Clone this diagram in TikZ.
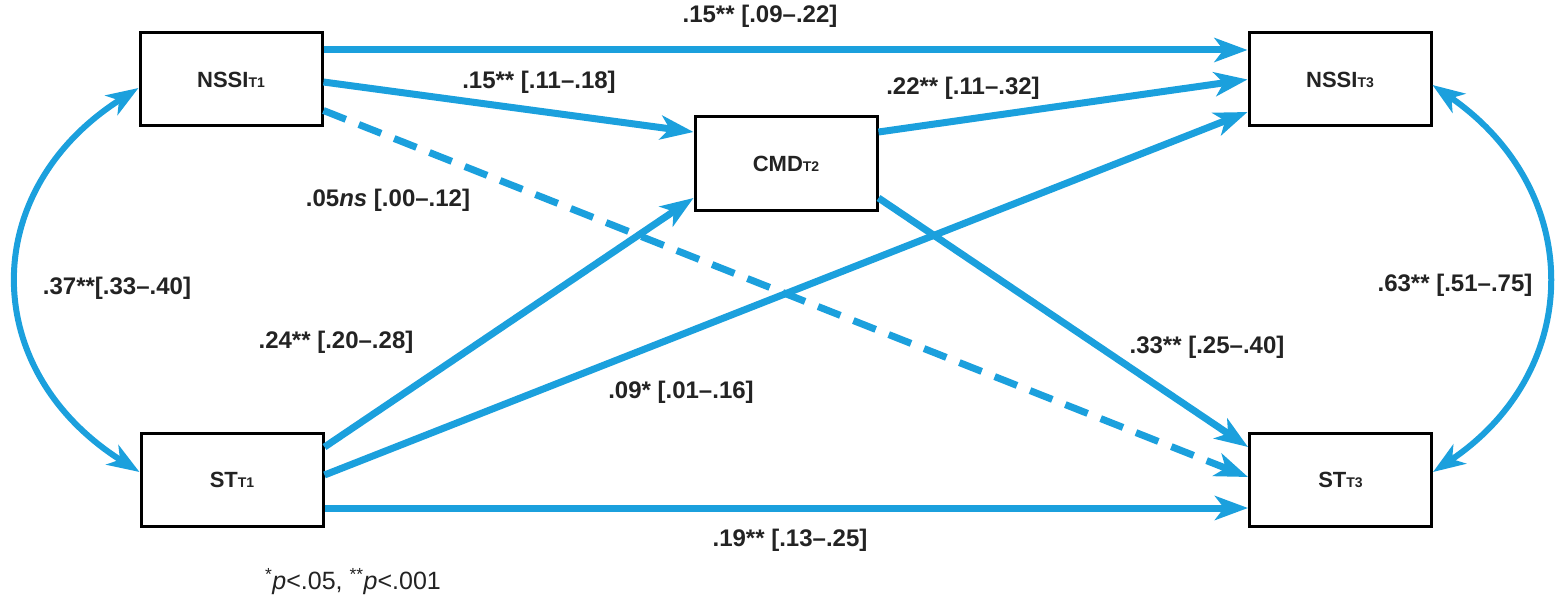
\documentclass[tikz,border=0pt]{standalone}
\usepackage{fontspec}
\setmainfont{Liberation Sans}
\usetikzlibrary{arrows.meta}
\definecolor{pathblue}{RGB}{27,160,221}
\definecolor{txt}{RGB}{35,35,35}
\begin{document}
\begin{tikzpicture}[x=1pt,y=-1pt,
  var/.style={draw=black, line width=3pt, fill=white, minimum width=182pt, minimum height=93pt, inner sep=0pt, font=\fontsize{22}{26}\selectfont\bfseries, text=txt},
  link/.style={draw=pathblue, line width=7pt, -{Stealth[length=33pt,width=24pt,inset=9pt]}},
  cov/.style={draw=pathblue, line width=6pt, {Stealth[length=32pt,width=23pt,inset=9pt]}-{Stealth[length=32pt,width=23pt,inset=9pt]}},
  lab/.style={font=\fontsize{24}{28}\selectfont\bfseries, text=txt, inner sep=0pt}
]
\useasboundingbox (0,0) rectangle (1557,599);
\fill[white] (0,0) rectangle (1557,599);

\newcommand{\subt}[1]{{\fontsize{14}{16}\selectfont #1}}

\node[var] (n1) at (231,79.5) {NSSI\subt{T1}};
\node[var] (n3) at (1340,79.5) {NSSI\subt{T3}};
\node[var] (cmd) at (786,163.5) {CMD\subt{T2}};
\node[var] (s1) at (232,480) {ST\subt{T1}};
\node[var] (s3) at (1340.5,480) {ST\subt{T3}};

% paths
\draw[link] ([yshift=29.5pt]n1.east) -- ([yshift=29.5pt]n3.west);
\draw[link] ([yshift=-2.5pt]n1.east) -- ([yshift=31.5pt]cmd.west);
\draw[link, dash pattern=on 24pt off 14pt] ([yshift=-31pt]n1.east) -- ([yshift=3pt]s3.west);
\draw[link] ([yshift=31.5pt]cmd.east) -- ([yshift=0pt]n3.west);
\draw[link] ([yshift=5pt]s1.east) -- ([yshift=-32.5pt]n3.west);
\draw[link] ([yshift=33pt]s1.east) -- ([yshift=-34.5pt]cmd.west);
\draw[link] ([yshift=-34.5pt]cmd.east) -- ([yshift=33pt]s3.west);
\draw[link] ([yshift=-28pt]s1.east) -- ([yshift=-28pt]s3.west);

% covariances
\draw[cov] ([yshift=-8.5pt]n1.west) .. controls (-22,190) and (-22,370) .. ([yshift=8pt]s1.west);
\draw[cov] ([yshift=-5.5pt]n3.east) .. controls (1585,190) and (1585,370) .. ([yshift=8pt]s3.east);

% labels
\node[lab] (l1) at (760,16) {.15** [.09–.22]};
\node[lab] (l2) at (539,82) {.15** [.11–.18]};
\node[lab] (l3) at (963,88) {.22** [.11–.32]};
\node[lab] (l4) at (388,200) {.05\textit{ns} [.00–.12]};
\node[lab] (l5) at (117,288) {.37**[.33–.40]};
\node[lab] (l6) at (336,342) {.24** [.20–.28]};
\node[lab] (l7) at (681,392) {.09* [.01–.16]};
\node[lab] (l8) at (1207,347) {.33** [.25–.40]};
\node[lab] (l9) at (1455,285) {.63** [.51–.75]};
\node[lab] (l10) at (790,540) {.19** [.13–.25]};
\node[font=\fontsize{25}{29}\selectfont, text=txt, inner sep=0pt] (note) at (353,582) {\textsuperscript{*}\textit{p}<.05, \textsuperscript{**}\textit{p}<.001};
\end{tikzpicture}
\end{document}
